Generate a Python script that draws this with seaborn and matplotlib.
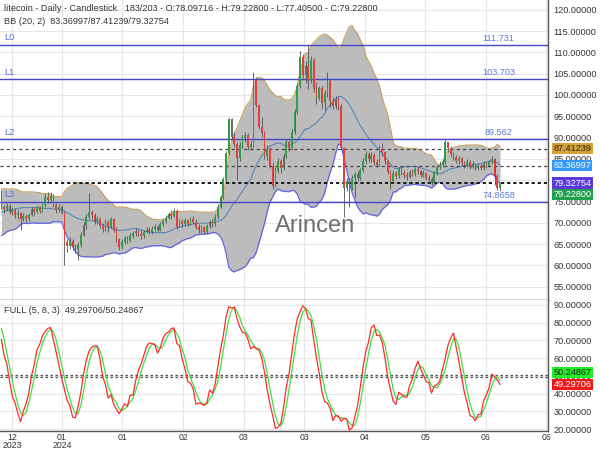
import numpy as np
import pandas as pd
import matplotlib
matplotlib.use("Agg")
import matplotlib.pyplot as plt
import seaborn as sns

# ---------------- data ----------------
pre_close = [69.5, 68.8, 70.2, 71.5, 70.6, 69.2, 68.4, 69.8, 71.0, 72.3,
             71.6, 73.4, 74.8, 73.9, 75.6, 76.2, 74.9, 76.8, 77.2]
pre_high = [70.4, 70.1, 70.8, 72.2, 71.9, 70.9, 69.6, 70.3, 71.6, 72.9,
            72.8, 73.9, 75.4, 75.2, 76.1, 76.9, 76.6, 77.3, 77.9]
pre_low = [68.7, 68.2, 68.5, 69.9, 70.1, 68.8, 67.9, 68.1, 69.5, 70.8,
           71.1, 71.4, 73.1, 73.4, 73.7, 75.3, 74.4, 74.7, 76.1]

first_open = 77.2
close = [73.8, 73.2, 74.0, 72.6, 73.1, 71.8, 72.4, 71.0, 71.6, 70.8,
         71.9, 73.2, 72.6, 73.6, 72.8, 74.1, 76.0, 75.3, 76.4, 74.2,
         73.1, 73.8, 72.4, 65.4, 64.6, 65.8, 64.3, 63.9, 64.8, 67.2,
         69.4, 71.3, 72.5, 71.8, 70.4, 71.0, 69.3, 68.6, 70.2, 69.1,
         70.9, 68.4, 66.2, 64.3, 65.6, 66.4, 65.8, 66.9, 67.5, 68.1,
         67.3, 66.8, 67.9, 68.4, 67.8, 68.6, 69.0, 68.3, 69.6, 70.4,
         71.2, 72.0, 71.6, 72.8, 69.1, 70.3, 69.6, 70.6, 69.8, 70.9,
         70.2, 69.0, 68.3, 68.9, 67.9, 69.2, 70.1, 69.6, 71.4, 73.8,
         76.1, 80.2, 86.3, 94.3, 90.2, 88.6, 85.1, 88.2, 89.8, 90.6,
         87.7, 88.4, 103.5, 97.7, 92.6, 91.0, 85.6, 87.4, 83.3, 78.6,
         82.2, 84.4, 82.9, 85.6, 88.9, 87.6, 91.4, 96.0, 102.0, 109.0,
         104.6, 106.9, 103.4, 108.2, 101.3, 99.4, 101.6, 98.2, 100.4, 103.2,
         98.6, 97.4, 99.0, 97.3, 87.6, 78.2, 79.9, 78.1, 80.6, 81.4,
         80.5, 82.3, 84.4, 86.2, 85.0, 86.0, 84.2, 83.6, 87.3, 86.5,
         84.4, 82.0, 79.8, 81.7, 81.0, 82.6, 81.8, 81.2, 80.8, 82.0,
         81.4, 82.6, 82.1, 81.3, 81.8, 80.6, 80.2, 79.4, 81.6, 83.1,
         83.6, 84.2, 88.9, 87.6, 86.1, 85.4, 84.6, 85.1, 84.0, 83.6,
         84.3, 83.2, 83.8, 82.8, 83.4, 82.9, 83.9, 83.3, 84.3, 85.0,
         81.0, 78.097, 79.228]
high = [77.8, 74.2, 74.6, 74.3, 73.8, 73.4, 72.9, 72.6, 72.2, 72.0,
        72.3, 73.7, 73.5, 74.1, 74.0, 74.6, 77.0, 77.2, 77.3, 76.8,
        74.7, 74.5, 74.2, 72.8, 66.3, 66.6, 66.2, 65.1, 65.6, 67.8,
        70.2, 72.1, 77.0, 73.1, 72.2, 71.7, 71.3, 69.9, 70.8, 70.6,
        71.4, 71.2, 68.9, 66.5, 66.1, 67.0, 66.9, 67.6, 68.1, 68.8,
        68.6, 68.2, 68.4, 69.0, 68.9, 69.2, 69.6, 69.4, 70.1, 71.0,
        71.8, 72.6, 73.0, 73.5, 73.2, 71.0, 70.8, 71.2, 71.0, 71.4,
        71.6, 70.8, 69.6, 69.4, 69.3, 69.7, 70.6, 70.8, 72.0, 74.3,
        76.6, 80.8, 86.9, 94.7, 94.6, 91.2, 89.0, 88.9, 90.6, 91.4,
        91.0, 89.3, 105.4, 104.2, 98.0, 94.8, 91.6, 88.3, 87.9, 84.2,
        83.1, 85.1, 85.0, 86.2, 89.6, 89.4, 92.0, 96.8, 102.8, 110.3,
        109.6, 108.0, 111.7, 109.2, 108.8, 103.0, 102.2, 102.0, 101.2, 105.4,
        103.8, 99.6, 99.8, 99.6, 97.8, 87.9, 80.6, 80.4, 81.2, 82.0,
        82.2, 82.9, 85.1, 86.8, 86.7, 86.5, 86.3, 85.0, 88.3, 88.7,
        86.9, 84.8, 82.4, 82.3, 82.2, 83.2, 83.0, 82.4, 81.9, 82.5,
        82.6, 83.1, 83.0, 82.5, 82.4, 82.0, 81.3, 80.8, 82.1, 83.6,
        84.6, 84.9, 89.6, 89.0, 88.1, 86.7, 85.9, 85.6, 85.4, 84.6,
        84.9, 84.7, 84.4, 84.1, 84.0, 83.8, 84.5, 84.3, 84.8, 85.6,
        85.1, 81.4, 79.228]
low = [73.2, 72.3, 72.8, 72.0, 71.9, 71.2, 70.9, 68.3, 70.4, 70.2,
       70.5, 71.6, 71.9, 72.2, 72.3, 72.6, 73.8, 74.6, 74.8, 73.6,
       72.4, 72.6, 72.1, 60.1, 63.2, 63.9, 63.7, 62.8, 61.3, 64.4,
       66.8, 68.6, 70.8, 70.9, 69.8, 69.6, 68.8, 67.9, 68.1, 67.8,
       68.7, 67.9, 65.6, 63.5, 63.9, 65.1, 65.2, 65.5, 66.4, 67.0,
       66.8, 66.2, 66.5, 67.6, 67.3, 67.4, 68.1, 67.9, 68.1, 69.2,
       69.9, 70.8, 71.0, 71.3, 68.6, 68.9, 69.0, 69.3, 69.2, 69.5,
       69.7, 68.6, 67.7, 67.6, 67.4, 67.6, 68.8, 69.1, 69.2, 71.0,
       73.4, 75.6, 79.8, 85.8, 89.4, 87.8, 80.0, 84.6, 87.6, 88.9,
       87.2, 87.1, 87.9, 97.1, 92.0, 90.2, 85.0, 84.8, 82.8, 78.0,
       78.3, 81.6, 81.8, 82.4, 85.1, 86.8, 87.2, 90.8, 95.6, 101.6,
       104.0, 102.9, 101.5, 102.8, 100.6, 97.8, 98.8, 97.0, 96.4, 99.6,
       97.2, 96.6, 96.8, 96.5, 87.0, 71.4, 77.5, 73.8, 77.6, 76.0,
       79.9, 80.1, 81.9, 83.8, 84.3, 84.2, 83.6, 83.1, 83.3, 85.6,
       83.9, 81.4, 78.0, 79.4, 80.3, 80.6, 81.2, 80.5, 80.1, 80.4,
       80.9, 81.0, 81.4, 80.8, 80.7, 80.1, 79.6, 78.9, 79.0, 81.2,
       82.6, 83.0, 83.8, 86.6, 85.4, 84.7, 84.0, 83.9, 83.4, 82.9,
       83.1, 82.6, 82.8, 82.3, 82.4, 82.4, 82.5, 82.8, 83.0, 83.9,
       78.9, 77.8, 77.405]

levels = [111.731, 103.703, 89.562, 74.8658]
level_names = ["L0", "L1", "L2", "L3"]
level_texts = ["111.731", "103.703", "89.562", "74.8658"]

bb_values = [87.41239, 83.36997, 79.32754]
last_close = 79.22800
stoch_values = [50.24867, 49.29706]

tick_pos = [3.9, 22.1, 44.2, 66.3, 88.4, 110.5, 132.6, 154.7, 176.8, 198.9]
tick_labels = ["12\n2023", "01\n2024", "01", "02", "03", "03", "04", "05", "06", "06"]

title1 = "litecoin - Daily - Candlestick   183/203 - O:78.09716 - H:79.22800 - L:77.40500 - C:79.22800"
title2 = "BB (20, 2)  83.36997/87.41239/79.32754"
title3 = "FULL (5, 8, 3)  49.29706/50.24867"

# ---------------- indicators ----------------
n = len(close)
npre = len(pre_close)
opens = [first_open] + close[:-1]
C = pd.Series(pre_close + close)
H = pd.Series(pre_high + high)
L = pd.Series(pre_low + low)
mid = C.rolling(20).mean()
sd = C.rolling(20).std(ddof=0)
upper = (mid + 2 * sd).iloc[npre:].to_numpy()
lower = (mid - 2 * sd).iloc[npre:].to_numpy()
mid = mid.iloc[npre:].to_numpy()

hh = H.rolling(5).max()
ll = L.rolling(5).min()
raw = 100 * (C - ll) / (hh - ll)
K = raw.rolling(8).mean()
D = K.rolling(3).mean()
K = K.iloc[npre:].to_numpy()
D = D.iloc[npre:].to_numpy()

idx = np.arange(n)
df = pd.DataFrame({"i": idx, "upper": upper, "lower": lower, "mid": mid, "K": K, "D": D})

# ---------------- style ----------------
sns.set_theme(style="white")
plt.rcParams['font.family'] = ['Liberation Sans', 'DejaVu Sans']

fig = plt.figure(figsize=(6, 4.5), dpi=100)
W = 548 / 600
ax1 = fig.add_axes([0, 1 - 300 / 450, W, 300 / 450])
ax2 = fig.add_axes([0, 1 - 431 / 450, W, 131 / 450])

XL = (-0.5, 199.5)
grid_c = "#e6e6e6"
txt_c = "#333333"
fs = 6.6

for ax in (ax1, ax2):
    ax.set_facecolor("white")
    ax.set_xlim(*XL)
    for s in ("top", "left"):
        ax.spines[s].set_visible(False)
    ax.spines["right"].set_color("#555555")
    ax.spines["bottom"].set_color("#555555")
    ax.spines["right"].set_linewidth(1.0)
    ax.spines["bottom"].set_linewidth(1.0)
    ax.yaxis.tick_right()
    ax.tick_params(axis="both", length=0, labelsize=fs, colors=txt_c, pad=4)
    for t in tick_pos:
        ax.axvline(t, color=grid_c, lw=0.8, zorder=0)

# ---- main panel ----
ax1.set_ylim(51.87, 122.3)
yt = np.arange(55, 121, 5)
ax1.set_yticks(yt)
ax1.set_yticklabels([f"{v:.5f}" for v in yt])
for v in yt:
    ax1.axhline(v, color=grid_c, lw=0.8, zorder=0)
ax1.set_xticks([])

ax1.fill_between(idx, lower, upper, color="#bcbcbc", zorder=1, lw=0)
sns.lineplot(data=df, x="i", y="upper", ax=ax1, color="#c9a464", lw=0.9, zorder=2)
sns.lineplot(data=df, x="i", y="lower", ax=ax1, color="#6464e0", lw=0.9, zorder=2)
sns.lineplot(data=df, x="i", y="mid", ax=ax1, color="#4f7fb8", lw=0.7, zorder=2)
ax1.set_xlabel("")
ax1.set_ylabel("")

# levels
for v, nm, tx in zip(levels, level_names, level_texts):
    ax1.axhline(v, color="#4646c8", lw=1.0, zorder=3)
    ax1.text(1.0, v + 0.6, nm, color="#4f6fd8", fontsize=fs, va="bottom", ha="left", zorder=5)
    ax1.text(181.5, v + 0.5, tx, color="#5b7be0", fontsize=fs, va="bottom", ha="center", zorder=5)

# dotted BB value lines
ax1.axhline(bb_values[0], color="#444444", lw=0.9, ls=(0, (2.5, 2.5)), zorder=3)
ax1.axhline(bb_values[1], color="#444444", lw=0.9, ls=(0, (2.5, 2.5)), zorder=3)
ax1.axhline(bb_values[2], color="#111111", lw=1.1, ls=(0, (2, 2)), zorder=3)
ax1.axhline(last_close, color="#111111", lw=1.1, ls=(0, (2, 2)), zorder=3)

# candles
up_c = "#2f9e48"
dn_c = "#e2403a"
o = np.array(opens)
c = np.array(close)
h = np.array(high)
l = np.array(low)
cols = [up_c if cc >= oo else dn_c for oo, cc in zip(o, c)]
ax1.vlines(idx, l, h, color="#505050", lw=0.6, zorder=4)
body = np.where(np.abs(c - o) < 0.15, 0.15, c - o)
ax1.bar(idx, body, bottom=o, width=0.62, color=cols, lw=0, zorder=5)

# watermark
ax1.text(0.575, 0.245, "Arincen", transform=ax1.transAxes, fontsize=17,
         color="#555555", ha="center", va="center", alpha=0.85, zorder=6)

# titles
ax1.text(0.008, 0.988, title1, transform=ax1.transAxes, fontsize=fs, color=txt_c,
         ha="left", va="top", zorder=7)
ax1.text(0.008, 0.942, title2, transform=ax1.transAxes, fontsize=fs, color=txt_c,
         ha="left", va="top", zorder=7)

# right value boxes
def rbox(ax, y, text, fc, tc):
    ax.annotate(text, xy=(1.0, y), xycoords=("axes fraction", "data"),
                xytext=(4, 0), textcoords="offset points", fontsize=fs,
                color=tc, ha="left", va="center", annotation_clip=False, zorder=10,
                bbox=dict(boxstyle="square,pad=0.12", fc=fc, ec="none"))

rbox(ax1, bb_values[0], "87.41239", "#d7a233", "#222222")
rbox(ax1, bb_values[1], "83.36997", "#3399ff", "white")
rbox(ax1, bb_values[2], "79.32754", "#5a3ad8", "white")
rbox(ax1, last_close - 2.55, "79.22800", "#23a04f", "white")

# ---- lower panel ----
ax2.set_ylim(18.9, 92.8)
yt2 = np.arange(20, 91, 10)
ax2.set_yticks(yt2)
ax2.set_yticklabels([f"{v:.5f}" for v in yt2])
for v in yt2:
    ax2.axhline(v, color=grid_c, lw=0.8, zorder=0)
ax2.set_xticks(tick_pos)
ax2.set_xticklabels(tick_labels, fontsize=6.3, color=txt_c, linespacing=0.8)
ax2.tick_params(axis="x", pad=1.5)

ax2.axhline(stoch_values[0], color="#555555", lw=0.9, ls=(0, (2, 2)), zorder=1)
ax2.axhline(stoch_values[1], color="#555555", lw=0.9, ls=(0, (2, 2)), zorder=1)
sns.lineplot(data=df, x="i", y="D", ax=ax2, color="#44dd44", lw=0.9, zorder=3)
sns.lineplot(data=df, x="i", y="K", ax=ax2, color="#ff2a2a", lw=0.9, zorder=4)
ax2.set_xlabel("")
ax2.set_ylabel("")
ax2.text(0.008, 0.92, title3, transform=ax2.transAxes, fontsize=fs, color=txt_c,
         ha="left", va="center", zorder=7)

rbox(ax2, stoch_values[0] + 1.7, "50.24867", "#22ee22", "#222222")
rbox(ax2, stoch_values[1] - 4.1, "49.29706", "#ee1a1a", "white")

fig.savefig("out.png", dpi=100, facecolor="white")
